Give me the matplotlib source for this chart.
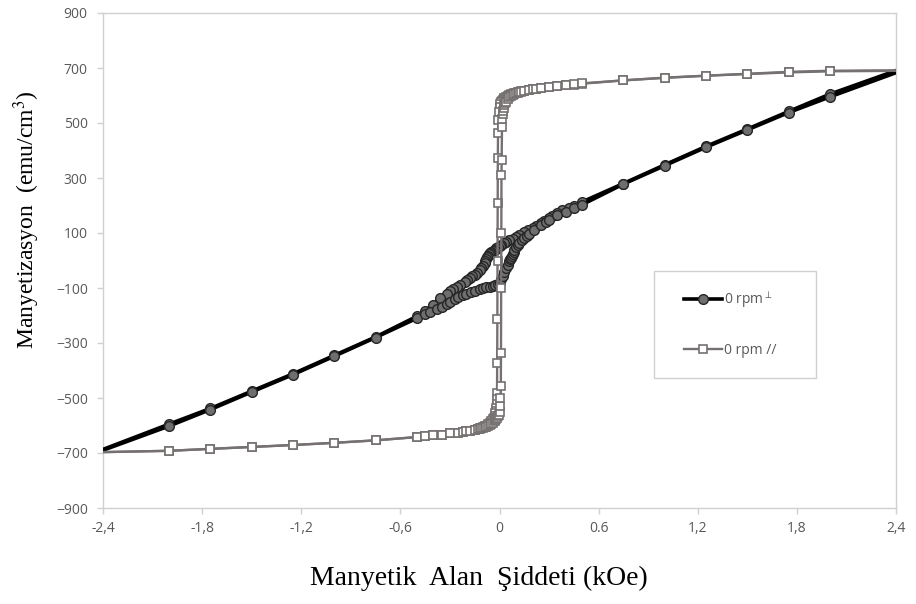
import matplotlib.pyplot as plt
from matplotlib.patches import Rectangle

# ---- data ----
# perpendicular, descending branch (field swept + -> -)
h_perp_down = [2.5, 2.0, 1.75, 1.5, 1.25, 1.0, 0.75, 0.5, 0.45, 0.42, 0.38, 0.35, 0.32,
               0.3, 0.27, 0.25, 0.22, 0.2, 0.17, 0.15, 0.12, 0.1, 0.08, 0.06, 0.04,
               0.03, 0.01, 0.0, -0.01, -0.02, -0.03, -0.04, -0.05, -0.06, -0.065, -0.07,
               -0.075, -0.08, -0.085, -0.09, -0.1, -0.11, -0.12, -0.135, -0.15, -0.165,
               -0.18, -0.195, -0.21, -0.24, -0.26, -0.28, -0.3, -0.32, -0.36, -0.4,
               -0.45, -0.5, -0.75, -1.0, -1.25, -1.5, -1.75, -2.0, -2.5]
m_perp_down = [712, 605, 542, 478, 415, 348, 280, 213, 200, 192, 182, 172, 163,
               156, 145, 136, 126, 120, 110, 102, 93, 87, 80, 74, 67,
               63, 56, 52, 48, 45, 40, 36, 32, 28, 23, 18,
               12, 5, -2, -8, -20, -28, -36, -44, -52, -58,
               -64, -70, -77, -89, -97, -105, -112, -120, -138, -160,
               -182, -203, -278, -345, -412, -475, -538, -595, -710]
# perpendicular, ascending branch (field swept - -> +)
h_perp_up = [-2.5, -2.0, -1.75, -1.5, -1.25, -1.0, -0.75, -0.5, -0.45, -0.42, -0.38,
             -0.35, -0.32, -0.3, -0.27, -0.25, -0.22, -0.2, -0.17, -0.15, -0.12, -0.1,
             -0.08, -0.06, -0.04, -0.03, -0.01, 0.0, 0.01, 0.02, 0.03, 0.04, 0.05, 0.06,
             0.065, 0.07, 0.075, 0.08, 0.085, 0.09, 0.1, 0.11, 0.12, 0.135, 0.15, 0.165,
             0.18, 0.21, 0.25, 0.28, 0.3, 0.35, 0.4, 0.45, 0.5, 0.75, 1.0, 1.25, 1.5,
             1.75, 2.0, 2.5]
m_perp_up = [-712, -602, -542, -478, -415, -348, -280, -210, -195, -186, -175,
             -168, -158, -150, -140, -133, -126, -122, -115, -110, -104, -100,
             -97, -95, -92, -90, -86, -82, -68, -55, -42, -28, -15, -2,
             4, 10, 16, 22, 30, 38, 48, 56, 63, 73, 82, 90,
             98, 112, 128, 140, 148, 164, 178, 190, 203, 278, 345, 412, 475,
             538, 595, 705]

# parallel, descending branch
h_par_down = [2.5, 2.0, 1.75, 1.5, 1.25, 1.0, 0.75, 0.5, 0.45, 0.4, 0.35, 0.3, 0.25,
              0.22, 0.2, 0.18, 0.15, 0.13, 0.12, 0.11, 0.1, 0.09, 0.08, 0.07, 0.06,
              0.05, 0.04, 0.03, 0.025, 0.02, 0.015, 0.01, 0.005, 0.0, -0.004, -0.007,
              -0.009, -0.01, -0.011, -0.012, -0.013, -0.014, -0.015, -0.016, -0.017,
              -0.019, -0.022, -0.025, -0.03, -0.035, -0.04, -0.05, -0.06, -0.07, -0.08,
              -0.09, -0.1, -0.11, -0.12, -0.13, -0.15, -0.18, -0.2, -0.22, -0.25, -0.3,
              -0.35, -0.4, -0.45, -0.5, -0.75, -1.0, -1.25, -1.5, -1.75, -2.0, -2.5]
m_par_down = [690, 688, 684, 678, 672, 664, 655, 643, 640, 637, 634, 630, 627,
              624, 622, 620, 617, 615, 613, 612, 610, 608, 606, 604, 601,
              598, 594, 590, 587, 584, 580, 575, 568, 560, 540, 510,
              463, 372, 208, 0, -212, -372, -481, -505, -520,
              -535, -548, -556, -565, -572, -577, -585, -591, -596, -600,
              -603, -606, -608, -610, -612, -615, -619, -621, -623, -626, -629,
              -633, -636, -639, -642, -654, -663, -671, -678, -685, -692, -698]
# parallel, ascending branch
h_par_up = [-2.5, -2.0, -1.75, -1.5, -1.25, -1.0, -0.75, -0.5, -0.45, -0.4, -0.35, -0.3,
            -0.25, -0.22, -0.2, -0.18, -0.15, -0.13, -0.12, -0.11, -0.1, -0.09, -0.08,
            -0.07, -0.06, -0.05, -0.04, -0.03, -0.025, -0.02, -0.015, -0.01, -0.005,
            0.0, 0.004, 0.006, 0.008, 0.009, 0.01, 0.011, 0.012, 0.013, 0.015, 0.017,
            0.019, 0.022, 0.025, 0.03, 0.035, 0.04, 0.05, 0.06, 0.07, 0.08, 0.09, 0.1,
            0.11, 0.12, 0.13, 0.15, 0.18, 0.2, 0.22, 0.25, 0.3, 0.35, 0.4, 0.45, 0.5,
            0.75, 1.0, 1.25, 1.5, 1.75, 2.0, 2.5]
m_par_up = [-698, -692, -685, -678, -671, -663, -654, -642, -639, -636, -633, -629,
            -626, -624, -621, -619, -616, -614, -612, -610, -608, -606, -604,
            -601, -597, -594, -590, -585, -581, -577, -572, -566, -560,
            -552, -530, -500, -456, -335, -100, 100, 310, 365, 485, 515,
            532, 545, 555, 565, 572, 578, 586, 593, 598, 602, 605, 608,
            610, 612, 614, 617, 620, 622, 624, 627, 631, 635, 638, 641, 644,
            655, 665, 672, 679, 686, 690, 692]

xticks = [-2.4, -1.8, -1.2, -0.6, 0, 0.6, 1.2, 1.8, 2.4]
xtick_labels = ['-2,4', '-1,8', '-1,2', '-0,6', '0', '0.6', '1,2', '1,8', '2,4']
yticks = [-900, -700, -500, -300, -100, 100, 300, 500, 700, 900]

BLACK = '#000000'
GRAY = '#767171'
SPINE = '#d0d0d0'
TICKTXT = '#595959'

fig = plt.figure(figsize=(9.16, 6.04), dpi=100)
ax = fig.add_axes([103 / 916, 1 - 508 / 604, 793 / 916, 495 / 604])

perp_kw = dict(color=BLACK, lw=2.6, marker='o', ms=7, mfc='#6e6e6e', mec='#262626',
               mew=1.0, zorder=3)
par_kw = dict(color=GRAY, lw=1.7, marker='s', ms=6.3, mfc='white', mec=GRAY,
              mew=1.2, zorder=4)

l1, = ax.plot(h_perp_down, m_perp_down, **perp_kw)
ax.plot(h_perp_up, m_perp_up, **perp_kw)
l2, = ax.plot(h_par_down, m_par_down, **par_kw)
ax.plot(h_par_up, m_par_up, **par_kw)

ax.set_xlim(-2.4, 2.4)
ax.set_ylim(-900, 900)
ax.set_xticks(xticks)
ax.set_xticklabels(xtick_labels)
ax.set_yticks(yticks)
for s in ax.spines.values():
    s.set_color(SPINE)
    s.set_linewidth(1.0)
ax.tick_params(axis='both', direction='out', length=4, width=1, color=SPINE,
               labelcolor=TICKTXT, labelsize=10)
ax.tick_params(axis='y', pad=7)
ax.tick_params(axis='x', pad=5)
for lab in ax.get_xticklabels() + ax.get_yticklabels():
    lab.set_fontfamily('Open Sans')

serif = 'Liberation Serif'
fig.text(27 / 916, 1 - 220 / 604, r'Manyetizasyon  (emu/cm$^{3}$)', rotation=90,
         ha='center', va='center', fontsize=17, family=serif,
         math_fontfamily='stix')
fig.text(479 / 916, 1 - 578 / 604, 'Manyetik  Alan  Şiddeti (kOe)', ha='center',
         va='center', fontsize=20, family=serif)

# legend frame + entries
fig.patches.append(Rectangle((654 / 916, 1 - 378 / 604), 162 / 916, 107 / 604,
                             transform=fig.transFigure, fill=False, edgecolor=SPINE,
                             lw=1.0))
leg = fig.legend([l1, l2], [r'0 rpm$^{\perp}$', '0 rpm //'], loc='upper left',
                 bbox_to_anchor=(684 / 916, 1 - 289 / 604), frameon=False,
                 borderpad=0, borderaxespad=0, handlelength=2.7, handletextpad=0.2,
                 labelspacing=2.4, prop={'family': 'Open Sans', 'size': 10})
for t in leg.get_texts():
    t.set_color(TICKTXT)

fig.savefig('out.png', dpi=100)
